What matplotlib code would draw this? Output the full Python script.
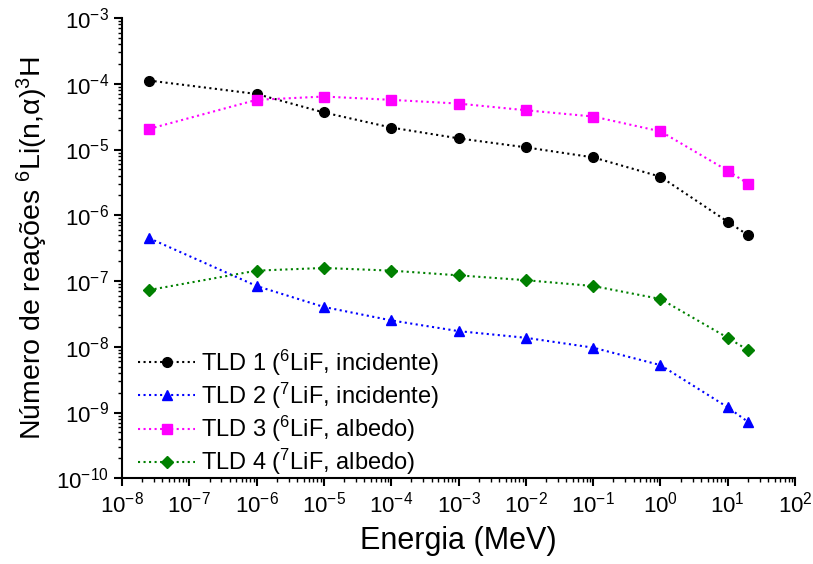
import matplotlib
matplotlib.use("Agg")
import matplotlib.pyplot as plt
from matplotlib.ticker import LogLocator, NullFormatter

plt.rcParams['font.family'] = ['Liberation Sans', 'DejaVu Sans']
plt.rcParams['mathtext.fontset'] = 'custom'
plt.rcParams['mathtext.rm'] = 'Liberation Sans'
plt.rcParams['mathtext.it'] = 'Liberation Sans:italic'
plt.rcParams['mathtext.default'] = 'regular'
plt.rcParams['axes.unicode_minus'] = False

# energies (MeV)
energy = [2.53e-8, 1e-6, 1e-5, 1e-4, 1e-3, 1e-2, 1e-1, 1, 10, 20]

tld1 = [1.12e-4, 7.0e-5, 3.66e-5, 2.16e-5, 1.48e-5, 1.08e-5, 7.6e-6, 3.86e-6, 7.96e-7, 4.99e-7]
tld2 = [4.49e-7, 8.4e-8, 4.03e-8, 2.52e-8, 1.73e-8, 1.37e-8, 9.7e-9, 5.26e-9, 1.2e-9, 7.2e-10]
tld3 = [2.06e-5, 5.7e-5, 6.4e-5, 5.7e-5, 5.0e-5, 3.96e-5, 3.18e-5, 1.89e-5, 4.76e-6, 3.02e-6]
tld4 = [7.3e-8, 1.44e-7, 1.58e-7, 1.44e-7, 1.22e-7, 1.03e-7, 8.4e-8, 5.33e-8, 1.37e-8, 8.9e-9]

labels = [r'TLD 1 ($^{6}$LiF, incidente)',
          r'TLD 2 ($^{7}$LiF, incidente)',
          r'TLD 3 ($^{6}$LiF, albedo)',
          r'TLD 4 ($^{7}$LiF, albedo)']

fig = plt.figure(figsize=(8.13, 5.64), dpi=100)
ax = fig.add_axes([0.150, 0.152, 0.828, 0.816])

series = [(tld1, 'black', 'o'), (tld2, '#0000ff', '^'),
          (tld3, '#ff00ff', 's'), (tld4, '#008000', 'D')]
for (vals, col, mk), lab in zip(series, labels):
    ax.plot(energy, vals, linestyle=':', color=col, marker=mk, markersize=7 if mk != 'D' else 6,
            linewidth=1.5, label=lab)

ax.set_xscale('log')
ax.set_yscale('log')
ax.set_xlim(1e-8, 1e2)
ax.set_ylim(1e-10, 1e-3)

ax.xaxis.set_major_locator(LogLocator(base=10, numticks=20))
ax.yaxis.set_major_locator(LogLocator(base=10, numticks=20))
ax.xaxis.set_minor_locator(LogLocator(base=10, subs=range(2, 10), numticks=20))
ax.yaxis.set_minor_locator(LogLocator(base=10, subs=range(2, 10), numticks=20))
ax.xaxis.set_minor_formatter(NullFormatter())
ax.yaxis.set_minor_formatter(NullFormatter())

for s in ['top', 'right']:
    ax.spines[s].set_visible(False)
for s in ['left', 'bottom']:
    ax.spines[s].set_linewidth(1.5)

ax.tick_params(which='major', direction='out', length=6, width=1.5, labelsize=16)
ax.tick_params(which='minor', direction='out', length=3, width=1)

ax.set_xlabel('Energia (MeV)', fontsize=22, labelpad=6)
ax.set_ylabel(r'Número de reações $^{6}$Li(n,$\alpha$)$^{3}$H', fontsize=20.5)

ax.legend(loc='lower left', frameon=False, fontsize=17, handlelength=2.4,
          handletextpad=0.25, labelspacing=0.12, borderaxespad=0.0, borderpad=0.35,
          bbox_to_anchor=(0.012, -0.015))

fig.savefig('out.png', dpi=100)
